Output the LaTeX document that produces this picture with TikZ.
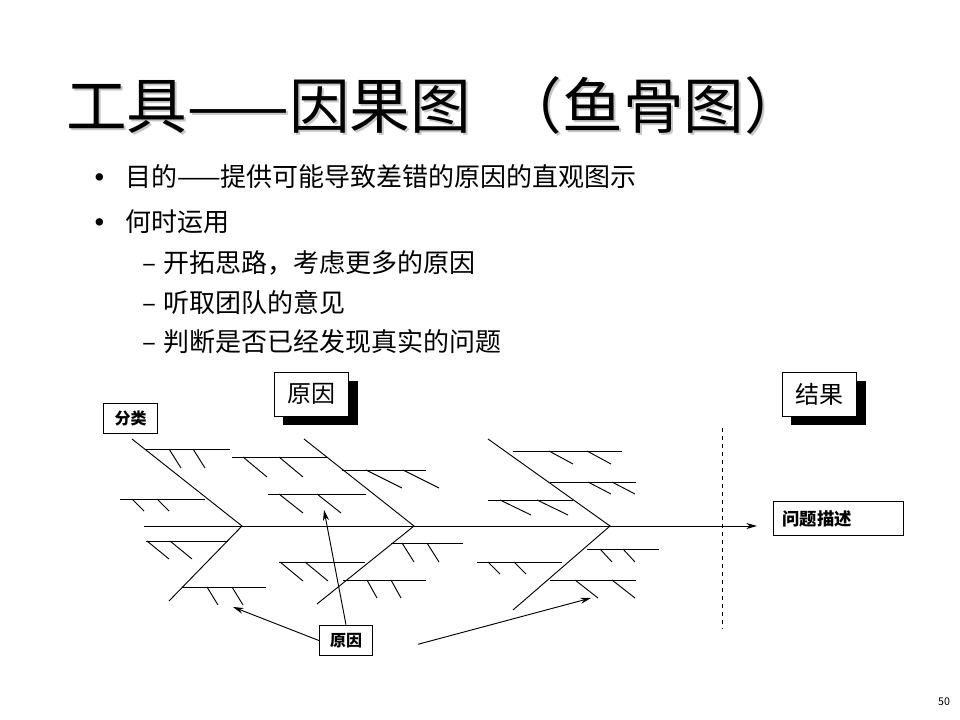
\documentclass[tikz,border=0pt]{standalone}
\usepackage{fontspec}
\setmainfont{Noto Sans CJK SC}
\usetikzlibrary{arrows.meta,shadows}

\begin{document}
\begin{tikzpicture}[
    x=0.75pt,
    y=-0.75pt,
    >={Stealth[length=8pt,width=4.5pt]},
    bone/.style={line width=0.7pt},
    item/.style={anchor=west,inner sep=0pt,font=\fontsize{19.5}{22}\selectfont},
    tagbox/.style={draw,line width=0.7pt,fill=white,inner sep=0pt,minimum width=40pt,minimum height=23pt,font=\fontsize{12}{14}\selectfont\bfseries},
    headbox/.style={draw,line width=0.7pt,fill=white,inner sep=0pt,minimum width=56pt,minimum height=33pt,font=\fontsize{18}{20}\selectfont,
      drop shadow={shadow xshift=6.75pt,shadow yshift=-6.75pt,fill=black,opacity=1}},
    titletext/.style={anchor=west,inner sep=0pt,font=\fontsize{45.5}{52}\selectfont}
]
  \path[use as bounding box,fill=white] (0,0) rectangle (960,720);

  \node[titletext,text=black!22] (titleshade) at (68,107) {工具——因果图\hspace{23pt}（鱼骨图）};
  \node[titletext] (title) at (66,105) {工具——因果图\hspace{23pt}（鱼骨图）};

  \node[item,font=\fontsize{20}{22}\selectfont\bfseries] (dot1) at (86,181) {•};
  \node[item] (aim) at (125,177) {目的——提供可能导致差错的原因的直观图示};
  \node[item,font=\fontsize{20}{22}\selectfont\bfseries] (dot2) at (86,226) {•};
  \node[item] (when) at (125,222) {何时运用};
  \foreach \y/\txt [count=\k] in {263/开拓思路，考虑更多的原因,303/听取团队的意见,342/判断是否已经发现真实的问题} {
    \node[item] (dash\k) at (142,\y+5) {–};
    \node[item] (use\k) at (163,\y) {\txt};
  }

  \node[headbox] (causes) at (311.5,394) {原因};
  \node[headbox] (effect) at (819.5,394) {结果};
  \node[tagbox,minimum width=40pt] (category) at (130.5,418.5) {分类};
  \node[tagbox,minimum width=98pt,minimum height=25pt,text width=84pt,align=left,font=\fontsize{13}{15}\selectfont\bfseries] (problem) at (838.5,518.5) {问题描述};
  \node[tagbox] (cause) at (346,640.5) {原因};

  \coordinate (tail) at (144,526);
  \coordinate (head) at (757,526);
  \draw[bone,->] (tail) -- (head);

  \draw[bone] (132,439) -- (242,526) -- (169,601);
  \draw[bone] (304,439) -- (414,526) -- (317,604);
  \draw[bone] (488,439) -- (610,526) -- (513,610);

  \foreach \y/\xa/\xb/\ta/\tb/\dx/\dy in {
      449/145/230/169/193/12/19, 499/120/205/132/157/12/12,
      457/232/328/243/279/24/20, 494/268/366/279/317/24/19,
      470/342/426/366/403/36/18, 541/146/228/147/170/22/18,
      587/182/266/207/232/11/18, 562/279/365/280/305/23/19,
      580/343/426/367/391/10/18, 543/391/463/402/427/12/19,
      451/513/622/549/587/24/13, 482/550/636/588/612/23/12,
      500/488/573/500/537/31/15, 549/587/659/600/623/12/13,
      562/477/562/488/514/12/12, 580/550/636/575/612/23/18} {
    \draw[bone] (\xa,\y) -- (\xb,\y);
    \draw[bone] (\ta,\y) -- ++(\dx,\dy);
    \draw[bone] (\tb,\y) -- ++(\dx,\dy);
  }

  \draw[dashed,line width=0.7pt] (722,428) -- (722,629);

  \coordinate (leftcause) at (233,607);
  \coordinate (midcause) at (324,510);
  \coordinate (rightcause) at (591,598);
  \draw[bone,->] (cause.west) -- (leftcause);
  \draw[bone,->] (cause.north) -- (midcause);
  \draw[bone,->,shorten <=35pt] (cause.south east) -- (rightcause);

  \node[font=\fontsize{8}{9}\selectfont] (page) at (944,702) {50};
\end{tikzpicture}
\end{document}
